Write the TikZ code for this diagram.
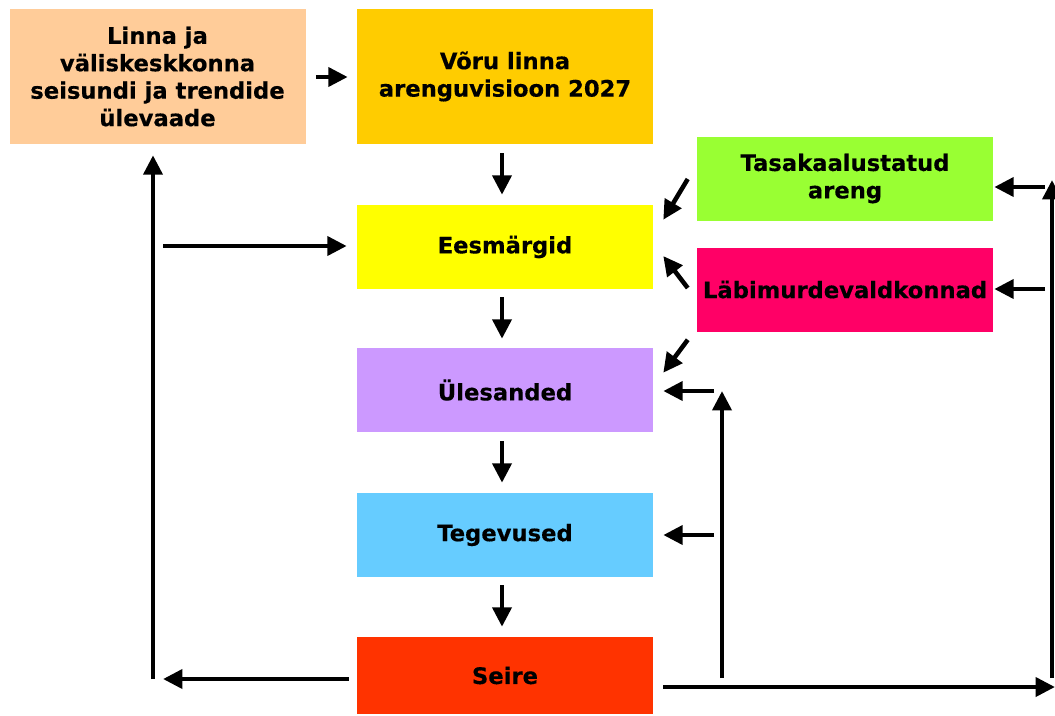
\documentclass[tikz,border=0pt]{standalone}
\usepackage{fontspec}
\setmainfont{DejaVu Sans}[BoldFeatures={FakeBold=0.4}]
\usetikzlibrary{arrows.meta,calc}
\definecolor{cA}{HTML}{FFCC99}
\definecolor{cB}{HTML}{FFCC00}
\definecolor{cE}{HTML}{FFFF00}
\definecolor{cU}{HTML}{CC99FF}
\definecolor{cT}{HTML}{66CCFF}
\definecolor{cS}{HTML}{FF3300}
\definecolor{cTas}{HTML}{99FF33}
\definecolor{cLab}{HTML}{FF0066}
\begin{document}
\begin{tikzpicture}[x=0.75pt,y=-0.75pt,
  box/.style={rectangle,inner sep=0pt,minimum width=222pt,align=center,
    font=\fontsize{17}{20.6}\selectfont\bfseries},
  tall/.style={box,minimum height=101.25pt},
  mid/.style={box,minimum height=63pt},
  arr/.style={line width=3.4pt,-{Triangle[length=14.5pt,width=14pt]}},
  ln/.style={line width=3.4pt}]
\useasboundingbox (0,0) rectangle (1055,715);
\node[tall,fill=cA] (A) at (157.5,76.5) {Linna ja\\väliskeskkonna\\seisundi ja trendide\\ülevaade};
\node[tall,fill=cB] (B) at (505,76.5) {Võru linna\\arenguvisioon 2027};
\node[mid,fill=cE] (E) at (505,247) {Eesmärgid};
\node[mid,fill=cU] (U) at (505,390) {Ülesanded};
\node[mid,fill=cT] (T) at (505,535) {Tegevused};
\node[box,minimum height=57.75pt,fill=cS] (S) at (505,675.5) {Seire};
\node[mid,fill=cTas] (Tas) at (845,178.5) {Tasakaalustatud\\areng};
\node[mid,fill=cLab] (Lab) at (845,289.5) {Läbimurdevaldkonnad};
% free ends
\coordinate (lb) at (153,679);
\coordinate (lh) at (163,246);
\coordinate (sl) at (163,679);
\coordinate (br) at (1055,687);
\coordinate (rb) at (1052,678);
\coordinate (rt) at (1052,180);
\coordinate (rTas) at (1045,187);
\coordinate (rLab) at (1045,289);
\coordinate (mU) at (714,391);
\coordinate (mT) at (714,535);
\coordinate (mb) at (722,678);
\coordinate (mt) at (722,391);
% main chain
\draw[arr] ($(A.east)+(10,0.5)$) -- ($(B.west)+(-9,0.5)$);
\draw[arr] ($(B.south)+(-3,9)$) -- ($(E.north)+(-3,-10)$);
\draw[arr] ($(E.south)+(-3,8)$) -- ($(U.north)+(-3,-9)$);
\draw[arr] ($(U.south)+(-3,9)$) -- ($(T.north)+(-3,-10)$);
\draw[arr] ($(T.south)+(-3,8)$) -- ($(S.north)+(-3,-10)$);
% left loop
\draw[arr] (lb) -- ($(A.south)+(-4.5,11)$);
\draw[arr] (lh) -- ($(E.west)+(-10,-1)$);
\draw[arr] ($(S.west)+(-8,3.5)$) -- (sl);
% right loop
\draw[arr] ($(S.east)+(10,11.5)$) -- (br);
\draw[arr] (rb) -- (rt);
\draw[arr] (rTas) -- ($(Tas.east)+(1,8.5)$);
\draw[arr] (rLab) -- ($(Lab.east)+(1,-0.5)$);
% diagonals
\draw[arr] ($(Tas.west)+(-9,0.5)$) -- ($(E.north east)+(10,15)$);
\draw[arr] ($(Lab.west)+(-9,-1.5)$) -- ($(E.east)+(10,9)$);
\draw[arr] ($(Lab.south west)+(-9,8)$) -- ($(U.north east)+(10,25)$);
% middle feedback
\draw[arr] (mU) -- ($(U.east)+(10,1)$);
\draw[arr] (mT) -- ($(T.east)+(10,0)$);
\draw[arr] (mb) -- (mt);
\end{tikzpicture}
\end{document}
